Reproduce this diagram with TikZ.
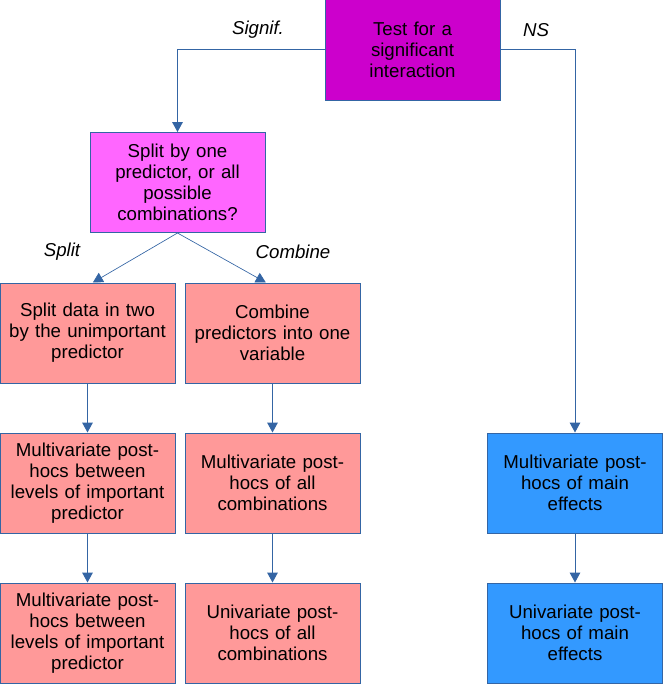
\documentclass[tikz,border=0pt]{standalone}
\usepackage{fontspec}
\setmainfont{Liberation Sans}
\usetikzlibrary{arrows.meta}

\definecolor{edgeblue}{HTML}{3465A4}
\definecolor{testfill}{HTML}{CC00CC}
\definecolor{splitfill}{HTML}{FF66FF}
\definecolor{salmon}{HTML}{FF9999}
\definecolor{mainblue}{HTML}{3399FF}

\tikzset{
  box/.style={draw=edgeblue, line width=0.75pt, rectangle, minimum width=131.25pt, minimum height=75pt, text width=126pt, align=center, inner sep=0pt, font=\fontsize{14}{15.75}\selectfont},
  lab/.style={font=\fontsize{14}{16}\selectfont\itshape},
  arr/.style={edgeblue, line width=0.75pt, -{Triangle[length=7.5pt,width=8pt]}}
}

\begin{document}
\begin{tikzpicture}[x=0.75pt,y=-0.75pt]
            \useasboundingbox (0,0) rectangle (663,685);

            % Top of the tree
            \node[box, fill=testfill] (test) at (412.5,50) {Test for a\\ significant\\ interaction};
            \node[box, fill=splitfill] (split) at (177.5,182.5) {Split by one\\ predictor, or all\\ possible\\ combinations?};

            % Split column
            \node[box, fill=salmon] (s1) at (87.5,333) {Split data in two\\ by the unimportant\\ predictor};
            \node[box, fill=salmon] (s2) at (87.5,483) {Multivariate post-\\hocs between\\ levels of important\\ predictor};
            \node[box, fill=salmon] (s3) at (87.5,633) {Multivariate post-\\hocs between\\ levels of important\\ predictor};

            % Combine column
            \node[box, fill=salmon] (c1) at (272.5,333) {Combine\\ predictors into one\\ variable};
            \node[box, fill=salmon] (c2) at (272.5,483) {Multivariate post-\\hocs of all\\ combinations};
            \node[box, fill=salmon] (c3) at (272.5,633) {Univariate post-\\hocs of all\\ combinations};

            % Main effects column
            \node[box, fill=mainblue] (m1) at (575,483) {Multivariate post-\\hocs of main\\ effects};
            \node[box, fill=mainblue] (m2) at (575,633) {Univariate post-\\hocs of main\\ effects};

            % Labels
            \node[lab] (signif) at (258,30) {Signif.};
            \node[lab] (ns) at (536,30) {NS};
            \node[lab] (splitlab) at (62,252) {Split};
            \node[lab] (comblab) at (293,252) {Combine};

            % Arrows
            \draw[arr] (test.west) -| (split.north);
            \draw[arr] (test.east) -| (m1.north);
            \draw[arr, line width=0.5pt] (split.south) -- ([xshift=4pt]s1.north);
            \draw[arr, line width=0.5pt] (split.south) -- ([xshift=-5pt]c1.north);
            \draw[arr] (s1) -- (s2);
            \draw[arr] (s2) -- (s3);
            \draw[arr] (c1) -- (c2);
            \draw[arr] (c2) -- (c3);
            \draw[arr] (m1) -- (m2);
\end{tikzpicture}
\end{document}
